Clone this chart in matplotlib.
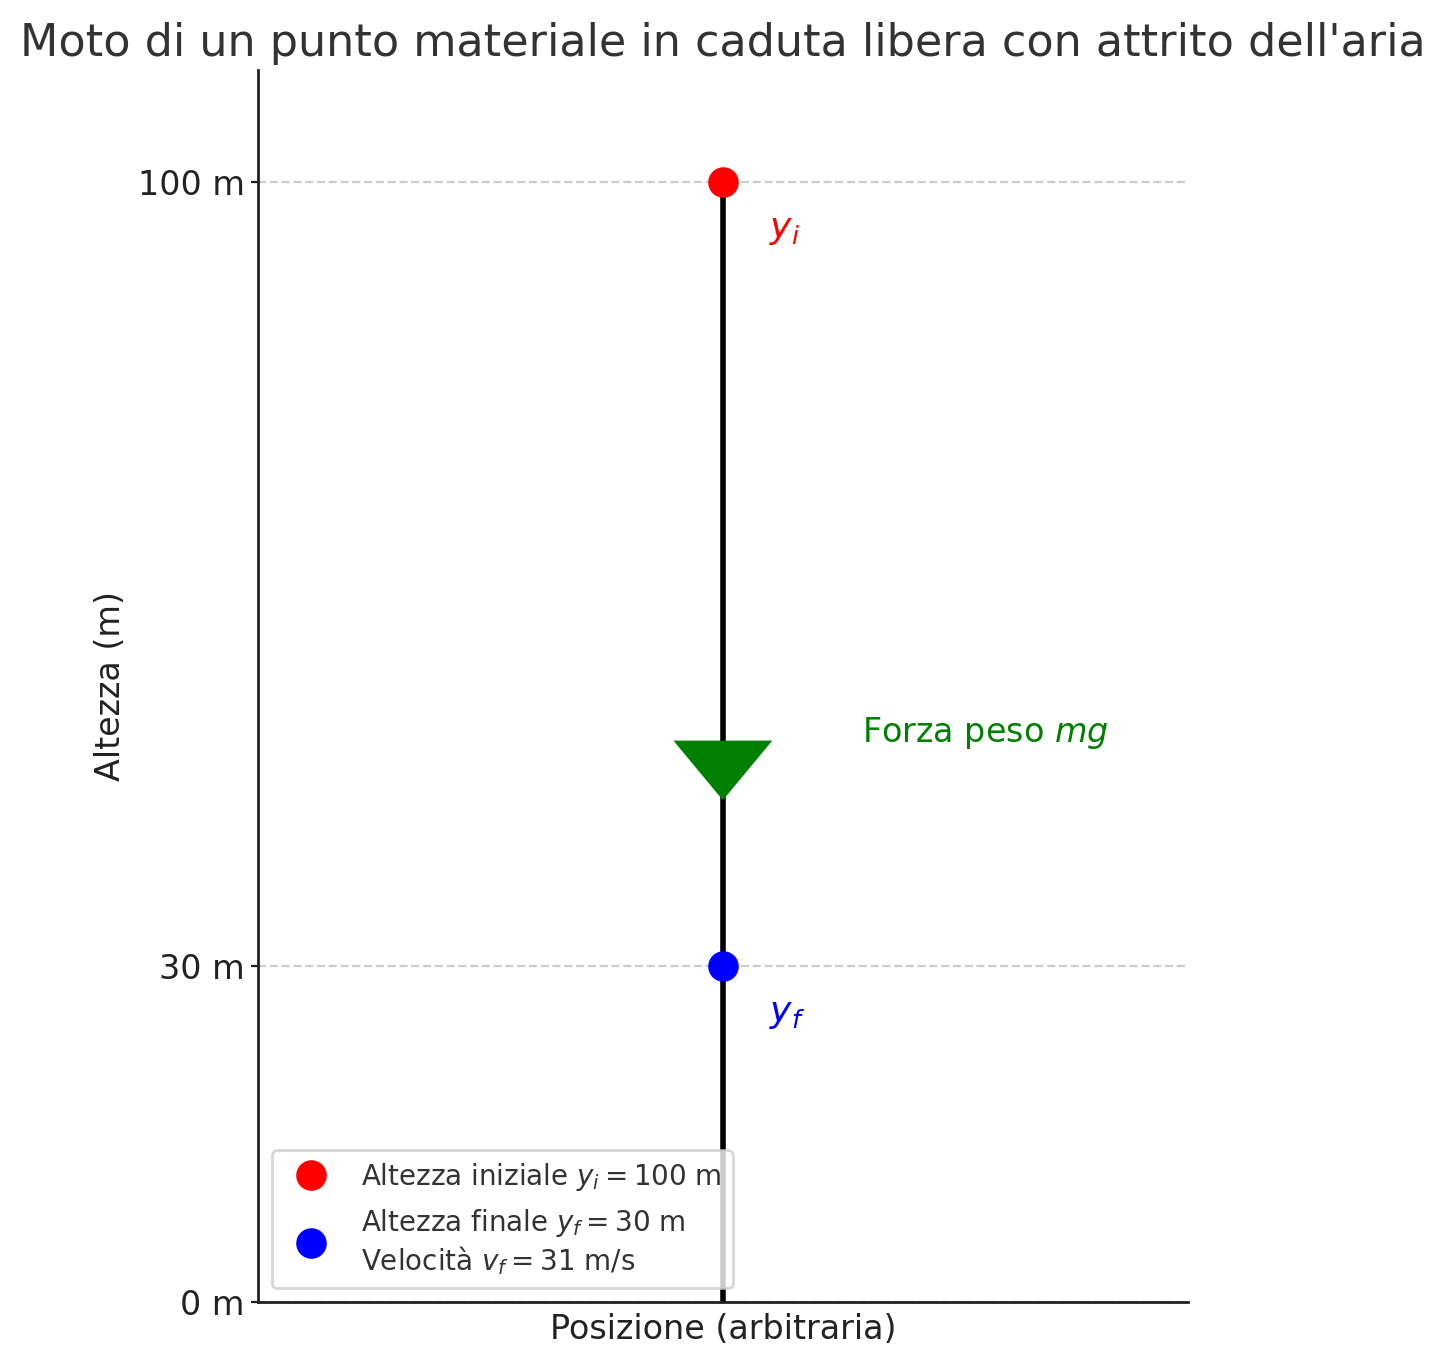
import numpy as np
import matplotlib.pyplot as plt

# dati del moto
y_iniziale = 100
y_finale = 30
v_finale = 31
pos_x = 0
y_ticks = [0, 30, 100]
y_tick_labels = ["0 m", "30 m", "100 m"]
y_forza = 50

fig = plt.figure(figsize=(7.225, 6.83), dpi=200)
ax = fig.add_axes([0.1785, 0.0468, 0.6435, 0.902])

# traiettoria verticale
ax.plot([pos_x, pos_x], [y_iniziale, 0], color='black', lw=2, zorder=2)

# punti iniziale e finale
ax.plot(pos_x, y_iniziale, 'o', color='red', markersize=10, zorder=3,
        label=rf"Altezza iniziale $y_i = {y_iniziale}$ m")
ax.plot(pos_x, y_finale, 'o', color='blue', markersize=10, zorder=3,
        label=rf"Altezza finale $y_f = {y_finale}$ m" + "\n"
              + rf"Velocità $v_f = {v_finale}$ m/s")

ax.text(pos_x + 0.1, y_iniziale - 5, r"$y_i$", color='red', fontsize=13)
ax.text(pos_x + 0.1, y_finale - 5, r"$y_f$", color='blue', fontsize=13)

# forza peso
ax.arrow(pos_x, y_forza, 0, -5, head_width=0.2, head_length=5,
         fc='green', ec='green', length_includes_head=True, zorder=2)
ax.text(pos_x + 0.3, y_forza, r"Forza peso $mg$", color='green', fontsize=12)

ax.set_xlim(-1, 1)
ax.set_ylim(0, 110)
ax.set_xticks([])
ax.set_yticks(y_ticks)
ax.set_yticklabels(y_tick_labels, fontsize=12, color='#222222')
ax.tick_params(axis='y', length=2.5, pad=2.2, color='#222222')
ax.yaxis.grid(True, linestyle='--', color='#cccccc', lw=0.8, zorder=0)

ax.spines['top'].set_visible(False)
ax.spines['right'].set_visible(False)
for s in ['left', 'bottom']:
    ax.spines[s].set_color('#222222')
    ax.spines[s].set_linewidth(1)

ax.set_xlabel("Posizione (arbitraria)", fontsize=12, color='#222222')
ax.set_ylabel("Altezza (m)", fontsize=12, color='#222222')
ax.set_title("Moto di un punto materiale in caduta libera con attrito dell'aria",
             fontsize=16, color='#333333', pad=5)

leg = ax.legend(loc='lower left', fontsize=10)
for t in leg.get_texts():
    t.set_color('#333333')

fig.savefig("out.png", dpi=200)
